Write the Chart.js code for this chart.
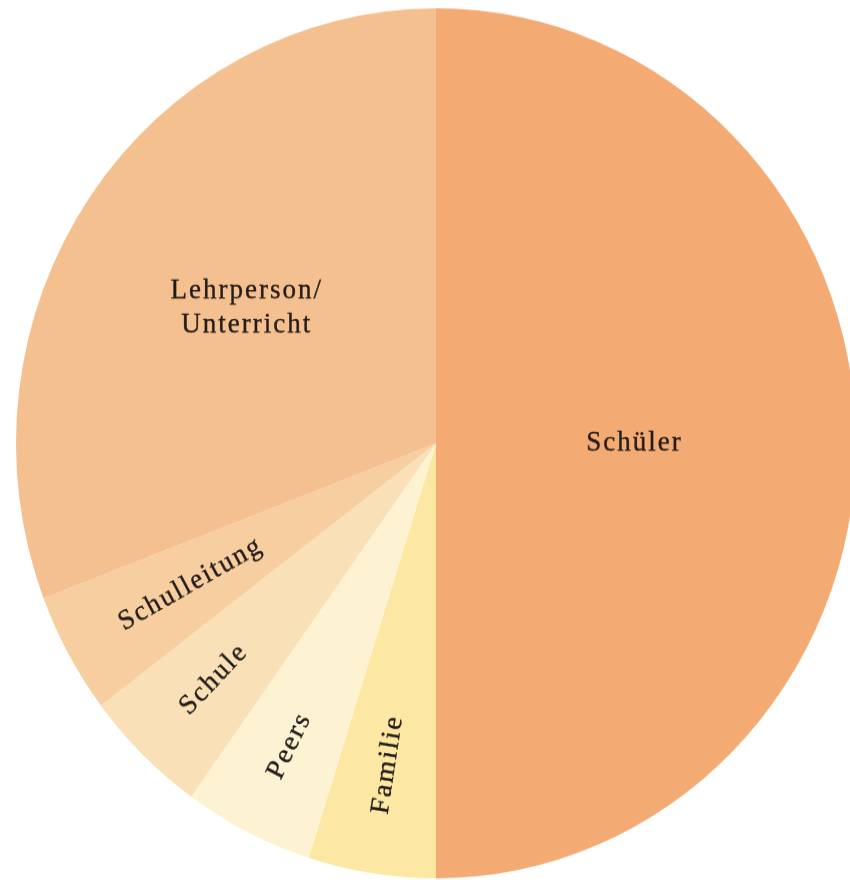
<!DOCTYPE html>
<html>
<head>
<meta charset="utf-8">
<script src="https://cdn.jsdelivr.net/npm/chart.js@4"></script>
<style>
    html, body { margin: 0; padding: 0; background: #fff; overflow: hidden; width: 850px; height: 880px; }
    /* the reference circle is slightly taller than wide */
    #wrap { transform: scaleY(1.0357); transform-origin: 0 0; }
</style>
</head>
<body>
<div id="wrap"><canvas id="pie" width="872" height="850"></canvas></div>
<script>
// Pie data (share in percent), clockwise from the top
const categories = ['Schüler', 'Familie', 'Peers', 'Schule', 'Schulleitung', ['Lehrperson/', 'Unterricht']];
const shares = [50, 4.9, 5.0, 4.8, 4.5, 30.8];
const colors = ['#F3AA73', '#FCE8A2', '#FDF3D2', '#F9E0B6', '#F7CE9F', '#F5C08F'];

// how far out each label sits (fraction of the radius)
const labelRadius = [0.47, 0.75, 0.78, 0.76, 0.67, 0.55];

// Draw the slice names inside the slices
const sliceLabels = {
    id: 'sliceLabels',
    afterDatasetsDraw(chart) {
        const ctx = chart.ctx;
        const arcs = chart.getDatasetMeta(0).data;
        const total = shares.reduce((a, b) => a + b, 0);
        ctx.save();
        ctx.font = '27px "Liberation Serif", serif';
        ctx.letterSpacing = '2px';
        ctx.fillStyle = '#221c19';
        ctx.strokeStyle = '#221c19';
        ctx.lineWidth = 0.35;
        ctx.textAlign = 'center';
        ctx.textBaseline = 'middle';
        arcs.forEach((arc, i) => {
            const { x, y, startAngle, endAngle, outerRadius } = arc.getProps(['x', 'y', 'startAngle', 'endAngle', 'outerRadius'], true);
            const mid = (startAngle + endAngle) / 2;
            const r = outerRadius * labelRadius[i];
            const lx = x + Math.cos(mid) * r;
            const ly = y + Math.sin(mid) * r;
            const lines = Array.isArray(categories[i]) ? categories[i] : [categories[i]];
            ctx.save();
            ctx.translate(lx, ly);
            // small slices get their label along the radius
            if (shares[i] / total < 0.1) ctx.rotate(mid - Math.PI);
            const lh = 33;
            lines.forEach((line, j) => {
                const ty = (j - (lines.length - 1) / 2) * lh;
                ctx.fillText(line, 1, ty);
                ctx.strokeText(line, 1, ty);
            });
            ctx.restore();
        });
        ctx.restore();
    }
};

new Chart(document.getElementById('pie'), {
    type: 'pie',
    data: {
        labels: categories,
        datasets: [{
            data: shares,
            backgroundColor: colors,
            borderWidth: 0,
            hoverOffset: 0
        }]
    },
    options: {
        responsive: false,
        animation: false,
        layout: { padding: { left: 16, right: 16, top: 8, bottom: 2 } },
        plugins: {
            legend: { display: false },
            tooltip: { enabled: false }
        }
    },
    plugins: [sliceLabels]
});
</script>
</body>
</html>
